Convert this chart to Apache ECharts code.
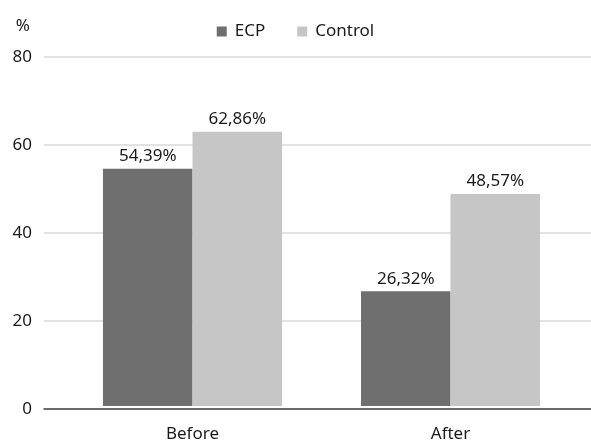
<!DOCTYPE html>
<html><head><meta charset="utf-8">
<script src="https://cdn.jsdelivr.net/npm/echarts@6/dist/echarts.min.js"></script>
<style>html,body{margin:0;padding:0;background:#fff}#c{width:591px;height:443px}</style>
</head><body><div id="c"></div>
<script>
const categories = ['Before', 'After'];
const ecp = [54.39, 26.32];
const control = [62.86, 48.57];
const yTicks = [0, 20, 40, 60, 80];

const FONT = '"Noto Sans", "Open Sans", sans-serif';
const TXT = '#1a1a1a';
const fmt = p => p.value.toFixed(2).replace('.', ',') + '%';
const chart = echarts.init(document.getElementById('c'), null, {renderer: 'canvas'});
chart.setOption({
  animation: false,
  textStyle: {fontFamily: FONT},
  legend: {
    top: 18, left: 'center', itemWidth: 10, itemHeight: 10, itemGap: 32,
    icon: 'rect',
    textStyle: {fontSize: 17, color: TXT, fontFamily: FONT, padding: [0, 0, 0, 3]},
    data: ['ECP', 'Control']
  },
  grid: [
    {left: 44, right: 0, top: 57, bottom: 34},
    {left: 63.5, right: 11.5, top: 57, bottom: 34}
  ],
  xAxis: [
    {gridIndex: 0, type: 'category', data: [''], axisLine: {show: true, lineStyle: {color: '#444', width: 1.5}},
     axisTick: {show: false}, axisLabel: {show: false}},
    {gridIndex: 1, type: 'category', data: categories, axisLine: {show: false}, axisTick: {show: false},
     axisLabel: {fontSize: 17, color: TXT, margin: 20, fontFamily: FONT}}
  ],
  yAxis: [
    {gridIndex: 0, type: 'value', min: yTicks[0], max: yTicks[yTicks.length - 1], interval: 20,
     name: '%', nameLocation: 'end', nameGap: 22,
     nameTextStyle: {fontSize: 17, color: TXT, align: 'right', padding: [0, 14, 0, 0], fontFamily: FONT},
     axisLine: {show: false}, axisTick: {show: false},
     axisLabel: {fontSize: 17, color: TXT, margin: 12, fontFamily: FONT},
     splitLine: {show: true, lineStyle: {color: '#d9d9d9', width: 1.5}}},
    {gridIndex: 1, type: 'value', min: yTicks[0], max: yTicks[yTicks.length - 1], interval: 20, show: false}
  ],
  series: [
    {name: 'ECP', type: 'bar', xAxisIndex: 1, yAxisIndex: 1, data: ecp, barWidth: 89.5, barGap: '0%',
     itemStyle: {color: '#6f6f6f'},
     label: {show: true, position: 'top', distance: 4, fontSize: 17, color: TXT, formatter: fmt, fontFamily: FONT}},
    {name: 'Control', type: 'bar', xAxisIndex: 1, yAxisIndex: 1, data: control, barWidth: 89.5, barGap: '0%',
     itemStyle: {color: '#c6c6c6'},
     label: {show: true, position: 'top', distance: 4, fontSize: 17, color: TXT, formatter: fmt, fontFamily: FONT}}
  ]
});
</script></body></html>
